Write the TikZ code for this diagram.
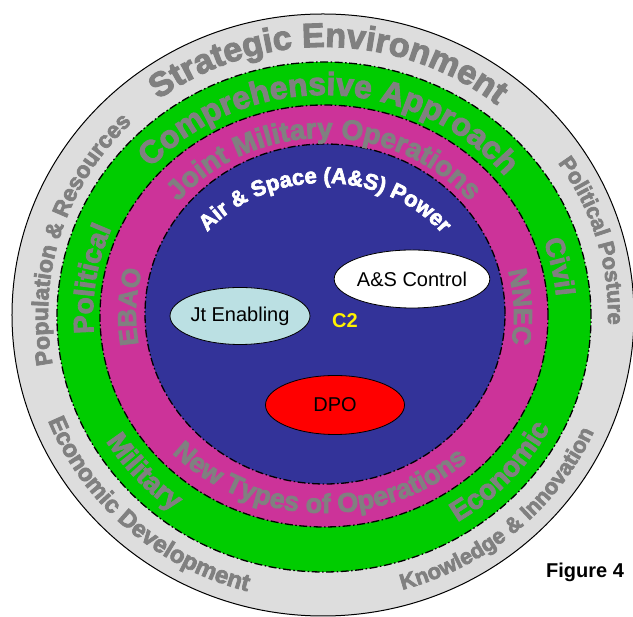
\documentclass[tikz,border=0pt]{standalone}
\usepackage{fontspec}
\setmainfont{Liberation Sans}
\newfontfamily\heavyfont{Liberation Sans}[BoldFeatures={FakeBold=3}]
\usetikzlibrary{shapes.geometric, decorations.text}
\definecolor{ringgray}{RGB}{221,221,221}
\definecolor{ringgreen}{RGB}{0,204,0}
\definecolor{ringpink}{RGB}{204,51,153}
\definecolor{ringblue}{RGB}{51,51,153}
\definecolor{labelgray}{RGB}{128,128,128}
\definecolor{jtblue}{RGB}{187,224,227}

% rx, ry, start angle, end angle, font size, colour, text
\newcommand{\ringlabel}[7]{%
  \path[decorate, decoration={text along path, text align=center, text color=#6,
      text={|\heavyfont\bfseries\fontsize{#5}{#5}\selectfont|#7}}]
    (#3:#1pt and #2pt) arc[start angle=#3, end angle=#4, x radius=#1pt, y radius=#2pt];}

\tikzset{
  ringline/.style={line width=1.3pt, dash pattern=on 8pt off 2.5pt on 1.5pt off 2.5pt},
  bubble/.style={ellipse, draw, line width=0.8pt, inner sep=0pt, minimum width=138pt,
    minimum height=58pt, font=\fontsize{20}{20}\selectfont}
}

\begin{document}
\begin{tikzpicture}[x=1pt, y=1pt]
  \useasboundingbox[fill=white] (-324,-302) rectangle (309,315);

  % rings
  \draw[line width=1pt, fill=ringgray] (-1,0) ellipse[x radius=311pt, y radius=301pt];
  \draw[ringline, fill=ringgreen] (0,-2) ellipse[x radius=267pt, y radius=255pt];
  \draw[ringline, fill=ringpink] (0,-1) ellipse[x radius=224pt, y radius=211pt];
  \draw[ringline, fill=ringblue] (1,1) ellipse[x radius=180pt, y radius=170pt];

  % strategic environment
  \ringlabel{278}{268}{160}{18}{34}{labelgray}{Strategic Environment}
  \ringlabel{276}{268}{210}{115}{23}{labelgray}{Population {\&} Resources}
  \ringlabel{284}{268}{55}{-23}{22}{labelgray}{Political Posture}
  \ringlabel{297}{286}{180}{276}{24}{labelgray}{Economic Development}
  \ringlabel{296}{285}{262}{360}{22}{labelgray}{Knowledge {\&} Innovation}

  % comprehensive approach
  \ringlabel{233}{220}{165}{12}{32}{labelgray}{Comprehensive Approach}
  \ringlabel{231}{220}{211}{131}{28}{labelgray}{Political}
  \ringlabel{233}{220}{50}{-26}{27}{labelgray}{Civil}
  \ringlabel{255}{243}{180}{264}{28}{labelgray}{Military}
  \ringlabel{255}{243}{275}{360}{28}{labelgray}{Economic}

  % joint military operations
  \ringlabel{190}{177}{160}{20}{28}{labelgray}{Joint Military Operations}
  \ringlabel{188}{177}{215}{140}{26}{labelgray}{EBAO}
  \ringlabel{190}{177}{40}{-35}{26}{labelgray}{NNEC}
  \ringlabel{212}{198}{200}{337}{27}{labelgray}{New Types of Operations}

  % air and space power
  \ringlabel{150}{132}{175}{4}{22}{white}{Air {\&} Space ({A}{\&}{S}) Power}

  \node[bubble, fill=white] (ctrl) at (88,36) {A\&S Control};
  \node[bubble, fill=jtblue, minimum width=137pt, minimum height=57pt] (jten) at (-84,-1) {Jt Enabling};
  \node[bubble, fill=red, minimum width=139pt, minimum height=59pt] (dpo) at (11,-90) {DPO};
  \node[text=yellow, font=\bfseries\fontsize{20}{20}\selectfont] (ctwo) at (21,-6) {C2};

  \node[font=\bfseries\fontsize{20}{20}\selectfont] (fig) at (261,-257) {Figure 4};
\end{tikzpicture}
\end{document}
